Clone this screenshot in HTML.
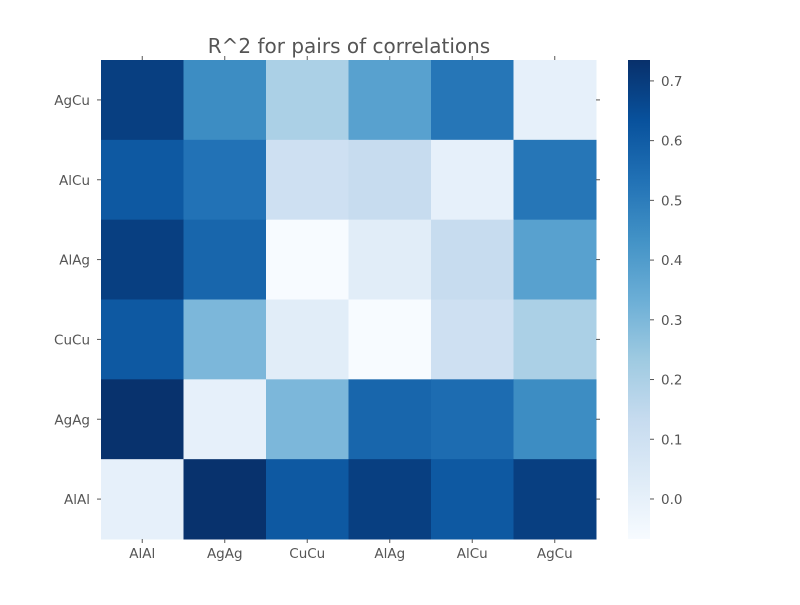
<!DOCTYPE html>
<html><head><meta charset="utf-8"><style>
body{margin:0;background:#fff;}
svg text{font-family:"DejaVu Sans","Liberation Sans",sans-serif;fill:#555;}
</style></head><body>
<svg id="chart" width="800" height="600" xmlns="http://www.w3.org/2000/svg">
<defs><linearGradient id="cbgrad" x1="0" y1="1" x2="0" y2="0">
<stop offset="0" stop-color="#f7fbff"/><stop offset="0.125" stop-color="#deebf7"/><stop offset="0.25" stop-color="#c6dbef"/><stop offset="0.375" stop-color="#9ecae1"/><stop offset="0.5" stop-color="#6baed6"/><stop offset="0.625" stop-color="#4292c6"/><stop offset="0.75" stop-color="#2171b5"/><stop offset="0.875" stop-color="#08519c"/><stop offset="1" stop-color="#08306b"/>
</linearGradient></defs>
<text x="349" y="53" font-size="20" text-anchor="middle">R^2 for pairs of correlations</text>
<g id="cells"></g><g id="axes"></g>
<rect x="628" y="60" width="22" height="479" fill="url(#cbgrad)"/>
</svg>
<script>
const rowLabels = ["AgCu","AlCu","AlAg","CuCu","AgAg","AlAl"];
const colLabels = ["AlAl","AgAg","CuCu","AlAg","AlCu","AgCu"];
const rowAgCu = [0.69,0.45,0.20,0.38,0.52,0.00];
const rowAlCu = [0.61,0.53,0.10,0.13,0.00,0.52];
const rowAlAg = [0.69,0.57,-0.07,0.02,0.13,0.38];
const rowCuCu = [0.61,0.30,0.02,-0.07,0.10,0.20];
const rowAgAg = [0.73,0.00,0.30,0.57,0.55,0.45];
const rowAlAl = [0.00,0.73,0.61,0.69,0.61,0.69];
const cbTicks = [0.0,0.1,0.2,0.3,0.4,0.5,0.6,0.7];
const vmin=-0.067, vmax=0.735;
const values=[rowAgCu,rowAlCu,rowAlAg,rowCuCu,rowAgAg,rowAlAl];
const NS="http://www.w3.org/2000/svg";
const px0=101,px1=596,py0=60,py1=539;
const cw=(px1-px0)/colLabels.length, ch=(py1-py0)/rowLabels.length;
const stops=[[247,251,255],[222,235,247],[198,219,239],[158,202,225],[107,174,214],[66,146,198],[33,113,181],[8,81,156],[8,48,107]];
function blues(v){let t=(v-vmin)/(vmax-vmin);t=Math.max(0,Math.min(1,t))*8;const i=Math.min(7,Math.floor(t)),f=t-i;
const c=stops[i].map((a,k)=>Math.round(a+(stops[i+1][k]-a)*f));return `rgb(${c})`;}
function mk(tag,attrs,parent){const e=document.createElementNS(NS,tag);for(const k in attrs)e.setAttribute(k,attrs[k]);parent.appendChild(e);return e;}
const cells=document.getElementById('cells'),axes=document.getElementById('axes');
values.forEach((row,r)=>row.forEach((v,c)=>{
 const e=mk('rect',{x:px0+c*cw,y:py0+r*ch,width:cw+0.5,height:ch+0.5,fill:blues(v)},cells);
 
 
}));
colLabels.forEach((l,c)=>{const x=px0+(c+0.5)*cw;
 mk('line',{x1:x,y1:py1,x2:x,y2:py1+4,stroke:'#555'},axes);
 mk('line',{x1:x,y1:py0,x2:x,y2:py0-4,stroke:'#555'},axes);
 const t=mk('text',{x:x,y:py1+19,'font-size':13.5,'text-anchor':'middle'},axes);t.textContent=l;
 
 
});
rowLabels.forEach((l,r)=>{const y=py0+(r+0.5)*ch;
 mk('line',{x1:px0,y1:y,x2:px0-4,y2:y,stroke:'#555'},axes);
 mk('line',{x1:px1,y1:y,x2:px1+4,y2:y,stroke:'#555'},axes);
 const t=mk('text',{x:px0-11,y:y+5,'font-size':13.5,'text-anchor':'end'},axes);t.textContent=l;
 
 
});
cbTicks.forEach(v=>{const y=py1-(v-vmin)/(vmax-vmin)*(py1-py0);
 mk('line',{x1:650,y1:y,x2:654,y2:y,stroke:'#555'},axes);
 mk('line',{x1:628,y1:y,x2:632,y2:y,stroke:'#555'},axes);
 const t=mk('text',{x:661,y:y+5,'font-size':13.5},axes);t.textContent=v.toFixed(1);
 
 
});
</script>
</body></html>
